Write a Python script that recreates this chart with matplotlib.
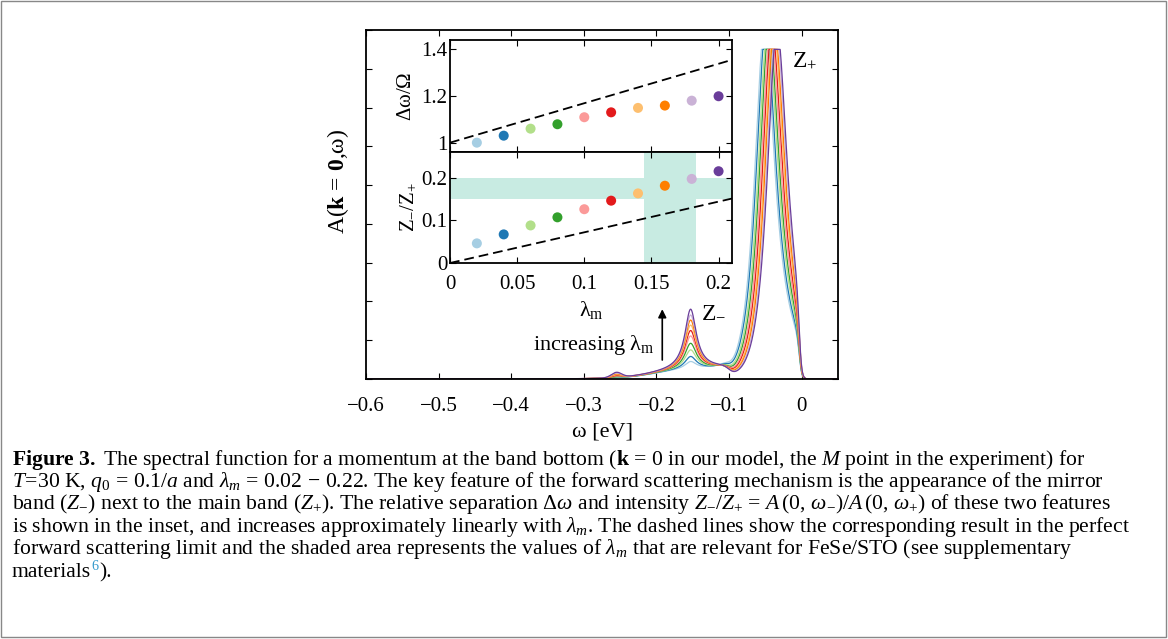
import numpy as np
import matplotlib
matplotlib.use('Agg')
import matplotlib.pyplot as plt
from matplotlib.patches import Rectangle

# ---------------- data ----------------
lam = [0.02, 0.04, 0.06, 0.08, 0.10, 0.12, 0.14, 0.16, 0.18, 0.20]
dw_ratio = [1.000, 1.030, 1.060, 1.079, 1.109, 1.130, 1.149, 1.159, 1.180, 1.199]
z_ratio = [0.046, 0.067, 0.088, 0.107, 0.126, 0.146, 0.163, 0.181, 0.197, 0.215]
colors = ['#a6cee3', '#1f78b4', '#b2df8a', '#33a02c', '#fb9a99',
          '#e31a1c', '#fdbf6f', '#ff7f00', '#cab2d6', '#6a3d9a']

dash_lam = [0.0, 0.21]
dash_dw = [1.0, 1.355]
dash_z = [0.0, 0.151]

shade_z = [0.15, 0.20]
shade_lam = [0.1445, 0.1835]

# spectral curves: peak parameters
main_pos = [-0.0515, -0.0495, -0.047, -0.045, -0.043, -0.041, -0.039, -0.0375, -0.0355, -0.034]
main_height = 9.0
main_width = 0.018
main_left_env = 0.03
mirror_pos = -0.153
mirror_width = 0.0096
mirror_amp = [0.19, 0.32, 0.49, 0.66, 0.85, 0.99, 1.13, 1.26, 1.39, 1.54]
bump_pos = -0.255
bump_amp = [0.01, 0.015, 0.02, 0.03, 0.04, 0.055, 0.07, 0.09, 0.11, 0.13]
plateau_height = 0.3
clip_level = 8.5

xticks_main = [-0.6, -0.5, -0.4, -0.3, -0.2, -0.1, 0.0]
xticklabels_main = ['\u22120.6', '\u22120.5', '\u22120.4', '\u22120.3', '\u22120.2', '\u22120.1', '0']

# ---------------- style ----------------
plt.rcParams['font.family'] = ['Liberation Serif', 'DejaVu Serif']
plt.rcParams['mathtext.fontset'] = 'custom'
plt.rcParams['mathtext.rm'] = 'Liberation Serif'
plt.rcParams['mathtext.it'] = 'Liberation Serif:italic'
plt.rcParams['mathtext.bf'] = 'Liberation Serif:bold'
plt.rcParams['lines.scale_dashes'] = False

W, H = 1168, 639
fig = plt.figure(figsize=(W / 100, H / 100), dpi=100)

def fx(px):
    return px / W

def fy(py):
    return 1 - py / H

# main axes
ax = fig.add_axes([fx(366), fy(379), fx(838) - fx(366), fy(30) - fy(379)])
w = np.linspace(-0.6, 0.05, 3000)
fermi = 1.0 / (1.0 + np.exp((w + 0.003) / 0.0018))
plateau = plateau_height / (1 + np.exp(-(w + 0.2) / 0.025)) / (1 + np.exp((w + 0.1) / 0.004))
for i in range(len(lam)):
    d = w - main_pos[i]
    main = main_height * main_width ** 2 / (d ** 2 + main_width ** 2)
    main = np.where(d < 0, main * np.exp(-d ** 2 / (2 * main_left_env ** 2)), main)
    mirror = mirror_amp[i] * mirror_width ** 2 / ((w - mirror_pos) ** 2 + mirror_width ** 2)
    bump = bump_amp[i] * np.exp(-(w - bump_pos) ** 2 / (2 * 0.007 ** 2))
    A = np.minimum((main + mirror + plateau + bump) * fermi, clip_level)
    ax.plot(w, A, color=colors[i], lw=0.9, zorder=2 + i * 0.01)

ax.set_xlim(-0.6, 0.05)
ax.set_ylim(0, 9)
ax.set_xticks(xticks_main)
ax.set_xticklabels(xticklabels_main)
ax.set_yticks(np.arange(0, 10))
ax.set_yticklabels([])
ax.tick_params(direction='in', top=True, right=True, length=4, width=0.8,
               labelsize=15, pad=13)
for s in ax.spines.values():
    s.set_linewidth(1.3)
ax.set_xlabel('ω [eV]', fontsize=16, labelpad=5)
ax.set_ylabel(r'A($\mathbf{k}$ = $\mathbf{0}$,ω)', fontsize=17)
ax.yaxis.set_label_coords(-0.031, 0.567)

ax.text(-0.0138, 8.07, r'$\mathrm{Z}_{+}$', fontsize=17, ha='left', va='baseline')
ax.text(-0.138, 1.6, r'$\mathrm{Z}_{-}$', fontsize=17, ha='left', va='baseline')
ax.text(-0.2025, 0.75, r'increasing $\mathrm{\lambda}_\mathrm{m}$', fontsize=16,
        ha='right', va='baseline')
ax.annotate('', xy=(-0.192, 1.80), xytext=(-0.192, 0.49),
            arrowprops=dict(arrowstyle='-|>', color='black', lw=1.2,
                            mutation_scale=12, shrinkA=0, shrinkB=0))

# inset axes
ix0, ix1 = fx(450), fx(732)
ax_t = fig.add_axes([ix0, fy(152), ix1 - ix0, fy(40) - fy(152)])
ax_b = fig.add_axes([ix0, fy(263), ix1 - ix0, fy(152) - fy(263)])

ax_t.plot(dash_lam, dash_dw, color='black', lw=1.3, dashes=(7, 3.6), zorder=2)
ax_t.scatter(lam, dw_ratio, c=colors, s=52, linewidths=0, zorder=3)
ax_t.set_xlim(0, 0.21)
ax_t.set_ylim(0.96, 1.44)
ax_t.set_yticks([1.0, 1.2, 1.4])
ax_t.set_yticklabels(['1', '1.2', '1.4'])
ax_t.set_xticks([0, 0.05, 0.1, 0.15, 0.2])
ax_t.set_xticklabels([])
ax_t.set_ylabel(r'$\mathrm{\Delta\omega/\Omega}$', fontsize=15, labelpad=4)

ax_b.axhspan(shade_z[0], shade_z[1], color='#c8ebe2', lw=0, zorder=0)
ax_b.axvspan(shade_lam[0], shade_lam[1], color='#c8ebe2', lw=0, zorder=0)
ax_b.plot(dash_lam, dash_z, color='black', lw=1.3, dashes=(7, 3.6), zorder=2)
ax_b.scatter(lam, z_ratio, c=colors, s=52, linewidths=0, zorder=3)
ax_b.set_xlim(0, 0.21)
ax_b.set_ylim(0, 0.26)
ax_b.set_yticks([0, 0.1, 0.2])
ax_b.set_yticklabels(['0', '0.1', '0.2'])
ax_b.set_xticks([0, 0.05, 0.1, 0.15, 0.2])
ax_b.set_xticklabels(['0', '0.05', '0.1', '0.15', '0.2'])
ax_b.set_xlabel(r'$\mathrm{\lambda}_\mathrm{m}$', fontsize=16, labelpad=3)
ax_b.set_ylabel(r'$\mathrm{Z}_{-}/\mathrm{Z}_{+}$', fontsize=15, labelpad=2)

for a in (ax_t, ax_b):
    a.tick_params(direction='in', top=True, right=True, length=4, width=0.8,
                  labelsize=15, pad=2)
    for s in a.spines.values():
        s.set_linewidth(1.3)
ax_b.tick_params(axis='x', pad=9)

# caption
cap_fs = 15.6
cap_lines = [
    r'$\mathbf{Figure\ 3.}$ The spectral function for a momentum at the band bottom ($\mathbf{k}\,=\,0$ in our model, the $M$ point in the experiment) for',
    r'$T\!=\!30$ K, $q_0\,=\,0.1/a$ and $\lambda_m\,=\,0.02\,-\,0.22$. The key feature of the forward scattering mechanism is the appearance of the mirror',
    r'band ($Z_{-}$) next to the main band ($Z_{+}$). The relative separation $\Delta\omega$ and intensity $Z_{-}/Z_{+}\,=\,A\,(0,\,\omega_{-})/A\,(0,\,\omega_{+})$ of these two features',
    r'is shown in the inset, and increases approximately linearly with $\lambda_m$. The dashed lines show the corresponding result in the perfect',
    r'forward scattering limit and the shaded area represents the values of $\lambda_m$ that are relevant for FeSe/STO (see supplementary',
]
base_y = [465, 487, 509, 532, 554, 577]
for i, s in enumerate(cap_lines):
    fig.text(fx(12), fy(base_y[i]), s, fontsize=cap_fs, ha='left', va='baseline')

t1 = fig.text(fx(12), fy(base_y[5]), 'materials', fontsize=cap_fs, ha='left', va='baseline')
fig.canvas.draw()
r = fig.canvas.get_renderer()
e1 = t1.get_window_extent(r)
t2 = fig.text(e1.x1 / W + 0.0005, fy(base_y[5] - 7), '6', fontsize=cap_fs * 0.65,
              color='#3399cc', ha='left', va='baseline')
e2 = t2.get_window_extent(r)
fig.text(e2.x1 / W + 0.0005, fy(base_y[5]), ').', fontsize=cap_fs, ha='left', va='baseline')

fig.patches.append(Rectangle((fx(1), fy(637)), fx(1166) - fx(1), fy(1) - fy(637),
                             transform=fig.transFigure, fill=False,
                             edgecolor='#888888', lw=1.0))

fig.savefig('out.png', dpi=100)
